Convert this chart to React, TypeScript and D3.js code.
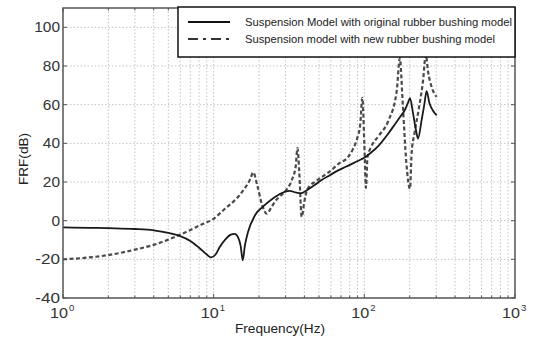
import React from "react";
import * as d3 from "d3";

const freqOrig = [1, 1.5, 2, 3, 4, 5, 6, 7, 8, 9, 9.6, 10.3, 11, 12, 13, 13.8, 14.5, 15.1, 15.6, 16.1, 16.9, 18.8, 21.8, 25.5, 29.6, 32, 35, 38, 41, 46, 52, 59, 67, 76, 86, 94, 100, 110, 125, 144, 160, 172, 185, 195, 201, 210, 220, 227, 240, 250, 259, 270, 285, 302];
const frfOrig = [-3.5, -3.7, -3.9, -4.3, -5.0, -6.3, -8.0, -10.5, -14, -17.5, -19, -17.5, -13.5, -9.5, -7.2, -6.8, -8.5, -13, -20.5, -13, -5.9, 2.8, 8, 12.3, 14.9, 15.4, 14.6, 14.2, 15.5, 18, 21, 23.5, 26, 28, 30, 31.5, 32.5, 35, 39, 45, 50, 53.5, 57, 61, 63.4, 56, 47, 42.5, 52, 60, 67, 61, 57, 54.5];

const freqNew = [1, 1.5, 2, 3, 4, 5, 6, 7, 8, 10, 11.9, 14, 16, 17.5, 18.3, 19.5, 21, 22.5, 24, 25.5, 27, 29.6, 33, 35, 36, 37, 38.4, 40, 42, 48, 59, 69, 76, 84, 90, 94, 97, 100, 102.5, 105, 110, 125, 144, 164, 172, 180, 190, 201, 206, 215, 230, 245, 256, 265, 280, 302];
const frfNew = [-20, -19, -17.8, -15, -12.5, -9.8, -7.2, -4.8, -2.6, 1, 6.2, 11, 16.5, 21.5, 25, 18, 8, 3.6, 6.5, 9.8, 12, 14.9, 21, 28, 37.5, 25, 2, 10, 16.5, 20.5, 25.5, 30, 32, 37, 43, 50, 63.5, 40, 17, 33, 37.5, 44, 51.5, 67, 84, 60, 30, 16.5, 35, 45, 58, 72, 86, 77, 69, 64];

const yTicks = [-40, -20, 0, 20, 40, 60, 80, 100];
const yTickLabels = ["-40", "-20", "0", "20", "40", "60", "80", "100"];
const xDecades = [1, 10, 100, 1000];
const xDecadeExps = ["0", "1", "2", "3"];
const legendLabels = [
  "Suspension Model with original rubber bushing model",
  "Suspension model with new rubber bushing model",
];

const L = 63, R = 515, T = 8, B = 298;

export default function App() {
  const x = d3.scaleLog().domain([1, 1000]).range([L, R]);
  const y = d3.scaleLinear().domain([-40, 110]).range([B, T]);

  const minor: number[] = [];
  for (const d of [1, 10, 100]) for (let k = 2; k <= 9; k++) minor.push(d * k);

  const line = d3
    .line<[number, number]>()
    .x((d) => x(d[0]))
    .y((d) => y(d[1]))
    .curve(d3.curveMonotoneX);

  const origPath = line(freqOrig.map((f, i) => [f, frfOrig[i]]) as [number, number][]) || "";
  const newPath = line(freqNew.map((f, i) => [f, frfNew[i]]) as [number, number][]) || "";

  const font = "'Liberation Sans', Arial, sans-serif";
  const gridColor = "#c4c4c4";
  const axisColor = "#555";

  return (
    <div style={{ position: "absolute", left: 0, top: 0 }}>
      <svg width={544} height={340} style={{ display: "block", background: "#fff" }}>
        <defs>
          <clipPath id="plotclip">
            <rect x={L} y={T} width={R - L} height={B - T} />
          </clipPath>
        </defs>
        {/* grid */}
        {minor.map((v) => (
          <line key={"mx" + v} x1={x(v)} x2={x(v)} y1={T} y2={B} stroke={gridColor} strokeWidth={1} strokeDasharray="1.5,2" />
        ))}
        {xDecades.slice(1, 3).map((v) => (
          <line key={"dx" + v} x1={x(v)} x2={x(v)} y1={T} y2={B} stroke={gridColor} strokeWidth={1} strokeDasharray="1.5,2" />
        ))}
        {yTicks.slice(1).map((v) => (
          <line key={"gy" + v} x1={L} x2={R} y1={y(v)} y2={y(v)} stroke={gridColor} strokeWidth={1} strokeDasharray="1.5,2" />
        ))}
        {/* tick marks inward */}
        {yTicks.map((v) => (
          <g key={"ty" + v}>
            <line x1={L} x2={L + 4} y1={y(v)} y2={y(v)} stroke={axisColor} strokeWidth={1} />
            <line x1={R - 4} x2={R} y1={y(v)} y2={y(v)} stroke={axisColor} strokeWidth={1} />
          </g>
        ))}
        {minor.map((v) => (
          <g key={"tx" + v}>
            <line x1={x(v)} x2={x(v)} y1={B} y2={B - 2.5} stroke={axisColor} strokeWidth={1} />
            <line x1={x(v)} x2={x(v)} y1={T} y2={T + 2.5} stroke={axisColor} strokeWidth={1} />
          </g>
        ))}
        {xDecades.map((v) => (
          <g key={"txd" + v}>
            <line x1={x(v)} x2={x(v)} y1={B} y2={B - 4} stroke={axisColor} strokeWidth={1} />
            <line x1={x(v)} x2={x(v)} y1={T} y2={T + 4} stroke={axisColor} strokeWidth={1} />
          </g>
        ))}
        {/* curves */}
        <g clipPath="url(#plotclip)">
          <path d={newPath} fill="none" stroke="#4a4a4a" strokeWidth={2.2} strokeDasharray="4,2.5" />
          <path d={origPath} fill="none" stroke="#1a1a1a" strokeWidth={1.8} />
        </g>
        {/* frame */}
        <rect x={L} y={T} width={R - L} height={B - T} fill="none" stroke={axisColor} strokeWidth={1.5} />
        {/* y tick labels */}
        {yTicks.map((v, i) => (
          <text
            key={"yl" + v}
            x={60}
            y={y(v) + 5}
            textAnchor="end"
            fontFamily={font}
            fontSize={14}
            fill="#333"
            textLength={yTickLabels[i].length * 8.6 - (yTickLabels[i].startsWith("-") ? 1 : 0)}
            lengthAdjust="spacingAndGlyphs"
          >
            {yTickLabels[i]}
          </text>
        ))}
        {/* x tick labels */}
        {xDecades.map((v, i) => (
          <g key={"xl" + v}>
            <text x={x(v) + 5} y={318} textAnchor="end" fontFamily={font} fontSize={14} fill="#333" textLength={18} lengthAdjust="spacingAndGlyphs">
              10
            </text>
            <text x={x(v) + 6} y={311} fontFamily={font} fontSize={9.5} fill="#333">
              {xDecadeExps[i]}
            </text>
          </g>
        ))}
        {/* axis titles */}
        <text x={280} y={333} textAnchor="middle" fontFamily={font} fontSize={12} fill="#222" textLength={90} lengthAdjust="spacingAndGlyphs">
          Frequency(Hz)
        </text>
        <text
          transform="translate(28,159) rotate(-90)"
          textAnchor="middle"
          fontFamily={font}
          fontSize={12}
          fill="#222"
          textLength={52}
          lengthAdjust="spacingAndGlyphs"
        >
          FRF(dB)
        </text>
        {/* legend */}
        <rect x={178} y={7} width={337} height={50} fill="#fff" stroke="#111" strokeWidth={1.5} />
        <line x1={188} x2={230} y1={22} y2={22} stroke="#111" strokeWidth={2} />
        <line x1={188} x2={230} y1={39} y2={39} stroke="#333" strokeWidth={2} strokeDasharray="10,5,3,5" />
        <text x={245} y={26} fontFamily={font} fontSize={11} fill="#222" textLength={267} lengthAdjust="spacingAndGlyphs">
          {legendLabels[0]}
        </text>
        <text x={245} y={43} fontFamily={font} fontSize={11} fill="#222" textLength={250} lengthAdjust="spacingAndGlyphs">
          {legendLabels[1]}
        </text>
      </svg>
    </div>
  );
}
